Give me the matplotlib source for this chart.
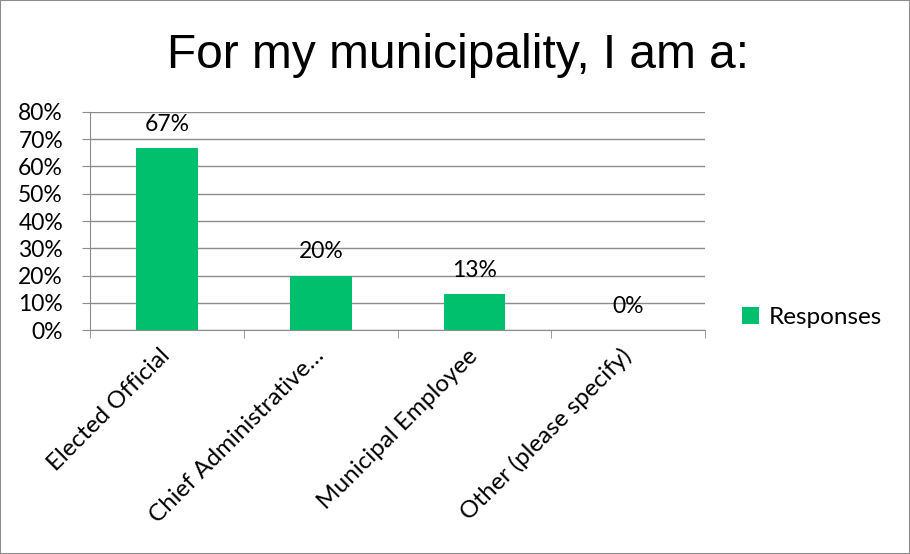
import matplotlib.pyplot as plt
import numpy as np

categories = ['Elected Official', 'Chief Administrative\u2026', 'Municipal Employee', 'Other (please specify)']
responses = [0.667, 0.20, 0.133, 0.0]
value_labels = ['67%', '20%', '13%', '0%']
y_ticks = [0, 0.1, 0.2, 0.3, 0.4, 0.5, 0.6, 0.7, 0.8]

plt.rcParams['font.family'] = ['Lato', 'DejaVu Sans']

fig = plt.figure(figsize=(9.1, 5.54), dpi=100)
fig.patches.append(plt.Rectangle((0, 0), 1, 1, transform=fig.transFigure,
                                 fill=False, edgecolor='#8c8c8c', linewidth=1.5))
ax = fig.add_axes([0.099, 0.404, 0.676, 0.394])

x = np.arange(len(categories))
bars = ax.bar(x, responses, width=0.40, color='#00c06e', label='Responses', zorder=3)

for xi, v, lab in zip(x, responses, value_labels):
    ax.annotate(lab, (xi, v), xytext=(0, 9.5), textcoords='offset points',
                ha='center', va='bottom', fontsize=16.5, color='black')

ax.set_xlim(-0.5, len(categories) - 0.5)
ax.set_ylim(0, 0.8)
ax.set_yticks(y_ticks)
ax.set_yticklabels([f'{int(round(t * 100))}%' for t in y_ticks], fontsize=16.5)
ax.yaxis.grid(True, color='#8c8c8c', linewidth=1, zorder=0)
ax.set_axisbelow(True)

ax.set_xticks(x)
ax.set_xticklabels(categories, rotation=45, ha='right', va='center',
                   rotation_mode='anchor', fontsize=17.5)
ax.set_xticks(np.arange(-0.5, len(categories)), minor=True)
ax.tick_params(axis='x', which='major', length=0, pad=16)
ax.tick_params(axis='x', which='minor', length=6, color='#8c8c8c')
ax.tick_params(axis='y', length=6, color='#8c8c8c', pad=13.5)

for s in ['top', 'right']:
    ax.spines[s].set_visible(False)
for s in ['left', 'bottom']:
    ax.spines[s].set_color('#8c8c8c')

fig.text(0.503, 0.877, 'For my municipality, I am a:', ha='center', va='baseline',
         fontsize=34.5, family='Liberation Sans')

fig.legend(handles=[bars], labels=['Responses'], loc='center left',
           bbox_to_anchor=(0.791, 0.427), frameon=False, fontsize=17.5,
           handlelength=0.7, handleheight=0.7, handletextpad=0.4)

fig.savefig('out.png', dpi=100)
